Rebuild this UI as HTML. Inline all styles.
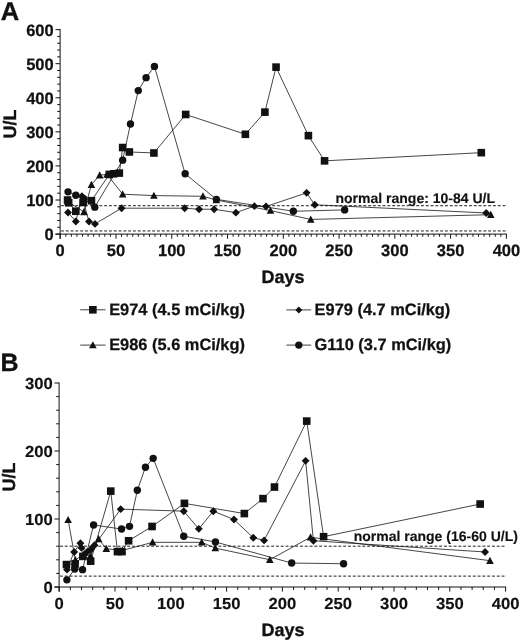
<!DOCTYPE html>
<html lang="en"><head><meta charset="utf-8"><title>Figure</title>
<style>
html,body{margin:0;padding:0;background:#fff;}
body{width:520px;height:642px;overflow:hidden;}
svg{display:block;will-change:transform;}
text{text-rendering:geometricPrecision;}
</style></head>
<body>
<svg width="520" height="642" viewBox="0 0 520 642">
<rect width="520" height="642" fill="#fff"/>
<g stroke="#111" stroke-width="1.0" fill="none" stroke-linecap="butt">
<path d="M60.10 29.10V238.90"/>
<path d="M55.50 234.10H506.90"/>
</g>
<g stroke="#111" stroke-width="1.0" fill="none">
<path d="M60.20 234.10v4.6M65.78 234.10v2.6M71.36 234.10v2.6M76.93 234.10v2.6M82.51 234.10v2.6M88.09 234.10v2.6M93.66 234.10v2.6M99.24 234.10v2.6M104.82 234.10v2.6M110.40 234.10v2.6M115.97 234.10v4.6M121.55 234.10v2.6M127.13 234.10v2.6M132.71 234.10v2.6M138.28 234.10v2.6M143.86 234.10v2.6M149.44 234.10v2.6M155.02 234.10v2.6M160.59 234.10v2.6M166.17 234.10v2.6M171.75 234.10v4.6M177.33 234.10v2.6M182.91 234.10v2.6M188.48 234.10v2.6M194.06 234.10v2.6M199.64 234.10v2.6M205.21 234.10v2.6M210.79 234.10v2.6M216.37 234.10v2.6M221.95 234.10v2.6M227.52 234.10v4.6M233.10 234.10v2.6M238.68 234.10v2.6M244.26 234.10v2.6M249.83 234.10v2.6M255.41 234.10v2.6M260.99 234.10v2.6M266.57 234.10v2.6M272.14 234.10v2.6M277.72 234.10v2.6M283.30 234.10v4.6M288.88 234.10v2.6M294.45 234.10v2.6M300.03 234.10v2.6M305.61 234.10v2.6M311.19 234.10v2.6M316.76 234.10v2.6M322.34 234.10v2.6M327.92 234.10v2.6M333.50 234.10v2.6M339.07 234.10v4.6M344.65 234.10v2.6M350.23 234.10v2.6M355.81 234.10v2.6M361.38 234.10v2.6M366.96 234.10v2.6M372.54 234.10v2.6M378.12 234.10v2.6M383.69 234.10v2.6M389.27 234.10v2.6M394.85 234.10v4.6M400.43 234.10v2.6M406.00 234.10v2.6M411.58 234.10v2.6M417.16 234.10v2.6M422.74 234.10v2.6M428.31 234.10v2.6M433.89 234.10v2.6M439.47 234.10v2.6M445.05 234.10v2.6M450.62 234.10v4.6M456.20 234.10v2.6M461.78 234.10v2.6M467.36 234.10v2.6M472.93 234.10v2.6M478.51 234.10v2.6M484.09 234.10v2.6M489.67 234.10v2.6M495.24 234.10v2.6M500.82 234.10v2.6M506.40 234.10v4.6M60.10 234.10h-4.6M60.10 227.28h-2.9M60.10 220.47h-2.9M60.10 213.65h-2.9M60.10 206.83h-2.9M60.10 200.02h-4.6M60.10 193.20h-2.9M60.10 186.38h-2.9M60.10 179.57h-2.9M60.10 172.75h-2.9M60.10 165.93h-4.6M60.10 159.12h-2.9M60.10 152.30h-2.9M60.10 145.48h-2.9M60.10 138.67h-2.9M60.10 131.85h-4.6M60.10 125.03h-2.9M60.10 118.22h-2.9M60.10 111.40h-2.9M60.10 104.58h-2.9M60.10 97.77h-4.6M60.10 90.95h-2.9M60.10 84.13h-2.9M60.10 77.32h-2.9M60.10 70.50h-2.9M60.10 63.68h-4.6M60.10 56.87h-2.9M60.10 50.05h-2.9M60.10 43.23h-2.9M60.10 36.42h-2.9M60.10 29.60h-4.6"/>
</g>
<g font-family='"Liberation Sans", Arial, Helvetica, sans-serif' font-weight="700" font-size="16.5" fill="#111" stroke="#111" stroke-width="0.25">
<text transform="translate(60.20 255.70) scale(1.0 1)" text-anchor="middle">0</text>
<text transform="translate(115.97 255.70) scale(1.0 1)" text-anchor="middle">50</text>
<text transform="translate(171.75 255.70) scale(1.0 1)" text-anchor="middle">100</text>
<text transform="translate(227.52 255.70) scale(1.0 1)" text-anchor="middle">150</text>
<text transform="translate(283.30 255.70) scale(1.0 1)" text-anchor="middle">200</text>
<text transform="translate(339.07 255.70) scale(1.0 1)" text-anchor="middle">250</text>
<text transform="translate(394.85 255.70) scale(1.0 1)" text-anchor="middle">300</text>
<text transform="translate(450.62 255.70) scale(1.0 1)" text-anchor="middle">350</text>
<text transform="translate(506.40 255.70) scale(1.0 1)" text-anchor="middle">400</text>
<text transform="translate(53.70 240) scale(1.0 1)" text-anchor="end">0</text>
<text transform="translate(53.70 206) scale(1.0 1)" text-anchor="end">100</text>
<text transform="translate(53.70 172) scale(1.0 1)" text-anchor="end">200</text>
<text transform="translate(53.70 138) scale(1.0 1)" text-anchor="end">300</text>
<text transform="translate(53.70 104) scale(1.0 1)" text-anchor="end">400</text>
<text transform="translate(53.70 70) scale(1.0 1)" text-anchor="end">500</text>
<text transform="translate(53.70 36) scale(1.0 1)" text-anchor="end">600</text>
</g>
<path d="M61.00 205.71H507.5" stroke="#111" stroke-width="0.95" stroke-dasharray="2.9 1.9" fill="none"/>
<path d="M61.00 230.96H507.5" stroke="#111" stroke-width="0.95" stroke-dasharray="2.9 1.9" fill="none"/>
<path d="M68.01 201.72 L83.96 211.95 L91.43 184.68 L99.69 175.14 L107.05 174.45 L122.67 194.22 L153.90 195.59 L202.98 196.27 L216.37 200.02 L270.47 210.58 L310.74 219.44 L490.78 214.67" stroke="#111" stroke-width="0.78" fill="none" stroke-linejoin="round"/>
<g fill="#111"><path d="M68.01 197.76L71.81 204.96L64.21 204.96Z"/><path d="M83.96 207.99L87.76 215.19L80.16 215.19Z"/><path d="M91.43 180.72L95.23 187.92L87.63 187.92Z"/><path d="M99.69 171.18L103.49 178.38L95.89 178.38Z"/><path d="M107.05 170.49L110.85 177.69L103.25 177.69Z"/><path d="M122.67 190.26L126.47 197.46L118.87 197.46Z"/><path d="M153.90 191.63L157.70 198.83L150.10 198.83Z"/><path d="M202.98 192.31L206.78 199.51L199.18 199.51Z"/><path d="M216.37 196.06L220.17 203.26L212.57 203.26Z"/><path d="M270.47 206.62L274.27 213.82L266.67 213.82Z"/><path d="M310.74 215.48L314.54 222.68L306.94 222.68Z"/><path d="M490.78 210.71L494.58 217.91L486.98 217.91Z"/></g>
<path d="M68.01 212.46 L75.82 221.49 L81.95 196.27 L88.98 221.49 L95.00 223.88 L121.55 208.20 L184.69 208.20 L199.08 209.22 L214.14 209.22 L235.89 212.63 L254.41 206.15 L266.01 206.49 L306.61 192.86 L314.76 204.79 L486.21 212.97" stroke="#111" stroke-width="0.78" fill="none" stroke-linejoin="round"/>
<g fill="#111"><path d="M68.01 208.51L71.96 212.46L68.01 216.41L64.06 212.46Z"/><path d="M75.82 217.54L79.77 221.49L75.82 225.44L71.87 221.49Z"/><path d="M81.95 192.32L85.90 196.27L81.95 200.22L78.00 196.27Z"/><path d="M88.98 217.54L92.93 221.49L88.98 225.44L85.03 221.49Z"/><path d="M95.00 219.93L98.95 223.88L95.00 227.82L91.05 223.88Z"/><path d="M121.55 204.25L125.50 208.20L121.55 212.15L117.60 208.20Z"/><path d="M184.69 204.25L188.64 208.20L184.69 212.15L180.74 208.20Z"/><path d="M199.08 205.27L203.03 209.22L199.08 213.17L195.13 209.22Z"/><path d="M214.14 205.27L218.09 209.22L214.14 213.17L210.19 209.22Z"/><path d="M235.89 208.68L239.84 212.63L235.89 216.58L231.94 212.63Z"/><path d="M254.41 202.20L258.36 206.15L254.41 210.10L250.46 206.15Z"/><path d="M266.01 202.54L269.96 206.49L266.01 210.44L262.06 206.49Z"/><path d="M306.61 188.91L310.56 192.86L306.61 196.81L302.66 192.86Z"/><path d="M314.76 200.84L318.71 204.79L314.76 208.74L310.81 204.79Z"/><path d="M486.21 209.02L490.16 212.97L486.21 216.92L482.26 212.97Z"/></g>
<path d="M68.01 191.84 L75.82 195.25 L83.63 198.65 L94.78 207.17 L122.67 160.14 L130.48 124.01 L138.28 90.61 L146.09 77.66 L154.46 66.41 L185.14 173.77 L216.37 199.33 L293.34 211.26 L344.65 209.90" stroke="#111" stroke-width="0.78" fill="none" stroke-linejoin="round"/>
<g fill="#111"><circle cx="68.01" cy="191.84" r="3.7"/><circle cx="75.82" cy="195.25" r="3.7"/><circle cx="83.63" cy="198.65" r="3.7"/><circle cx="94.78" cy="207.17" r="3.7"/><circle cx="122.67" cy="160.14" r="3.7"/><circle cx="130.48" cy="124.01" r="3.7"/><circle cx="138.28" cy="90.61" r="3.7"/><circle cx="146.09" cy="77.66" r="3.7"/><circle cx="154.46" cy="66.41" r="3.7"/><circle cx="185.14" cy="173.77" r="3.7"/><circle cx="216.37" cy="199.33" r="3.7"/><circle cx="293.34" cy="211.26" r="3.7"/><circle cx="344.65" cy="209.90" r="3.7"/></g>
<path d="M67.56 200.02 L68.68 202.74 L75.82 211.26 L83.07 202.40 L91.43 200.70 L109.28 174.45 L113.74 173.77 L119.32 173.09 L122.67 147.53 L129.36 151.96 L153.90 152.98 L185.69 114.47 L245.37 134.27 L264.89 112.12 L276.05 67.13 L308.40 135.63 L324.57 160.85 L481.30 152.67" stroke="#111" stroke-width="0.78" fill="none" stroke-linejoin="round"/>
<g fill="#111"><rect x="63.76" y="196.22" width="7.6" height="7.6"/><rect x="64.88" y="198.94" width="7.6" height="7.6"/><rect x="72.02" y="207.46" width="7.6" height="7.6"/><rect x="79.27" y="198.60" width="7.6" height="7.6"/><rect x="87.63" y="196.90" width="7.6" height="7.6"/><rect x="105.48" y="170.65" width="7.6" height="7.6"/><rect x="109.94" y="169.97" width="7.6" height="7.6"/><rect x="115.52" y="169.29" width="7.6" height="7.6"/><rect x="118.87" y="143.73" width="7.6" height="7.6"/><rect x="125.56" y="148.16" width="7.6" height="7.6"/><rect x="150.10" y="149.18" width="7.6" height="7.6"/><rect x="181.89" y="110.67" width="7.6" height="7.6"/><rect x="241.57" y="130.47" width="7.6" height="7.6"/><rect x="261.09" y="108.32" width="7.6" height="7.6"/><rect x="272.25" y="63.33" width="7.6" height="7.6"/><rect x="304.60" y="131.83" width="7.6" height="7.6"/><rect x="320.77" y="157.05" width="7.6" height="7.6"/><rect x="477.50" y="148.87" width="7.6" height="7.6"/></g>
<g stroke="#111" stroke-width="1.0" fill="none" stroke-linecap="butt">
<path d="M59.10 382.50V591.80"/>
<path d="M54.50 587.00H506.10"/>
</g>
<g stroke="#111" stroke-width="1.0" fill="none">
<path d="M59.20 587.00v4.6M70.36 587.00v2.9M81.52 587.00v2.9M92.68 587.00v2.9M103.84 587.00v2.9M115.00 587.00v4.6M126.16 587.00v2.9M137.32 587.00v2.9M148.48 587.00v2.9M159.64 587.00v2.9M170.80 587.00v4.6M181.96 587.00v2.9M193.12 587.00v2.9M204.28 587.00v2.9M215.44 587.00v2.9M226.60 587.00v4.6M237.76 587.00v2.9M248.92 587.00v2.9M260.08 587.00v2.9M271.24 587.00v2.9M282.40 587.00v4.6M293.56 587.00v2.9M304.72 587.00v2.9M315.88 587.00v2.9M327.04 587.00v2.9M338.20 587.00v4.6M349.36 587.00v2.9M360.52 587.00v2.9M371.68 587.00v2.9M382.84 587.00v2.9M394.00 587.00v4.6M405.16 587.00v2.9M416.32 587.00v2.9M427.48 587.00v2.9M438.64 587.00v2.9M449.80 587.00v4.6M460.96 587.00v2.9M472.12 587.00v2.9M483.28 587.00v2.9M494.44 587.00v2.9M505.60 587.00v4.6M59.10 587.00h-4.6M59.10 573.40h-2.9M59.10 559.80h-2.9M59.10 546.20h-2.9M59.10 532.60h-2.9M59.10 519.00h-4.6M59.10 505.40h-2.9M59.10 491.80h-2.9M59.10 478.20h-2.9M59.10 464.60h-2.9M59.10 451.00h-4.6M59.10 437.40h-2.9M59.10 423.80h-2.9M59.10 410.20h-2.9M59.10 396.60h-2.9M59.10 383.00h-4.6"/>
</g>
<g font-family='"Liberation Sans", Arial, Helvetica, sans-serif' font-weight="700" font-size="16.0" fill="#111" stroke="#111" stroke-width="0.15">
<text transform="translate(59.20 608.60) scale(1.04 1)" text-anchor="middle">0</text>
<text transform="translate(115.00 608.60) scale(1.04 1)" text-anchor="middle">50</text>
<text transform="translate(170.80 608.60) scale(1.04 1)" text-anchor="middle">100</text>
<text transform="translate(226.60 608.60) scale(1.04 1)" text-anchor="middle">150</text>
<text transform="translate(282.40 608.60) scale(1.04 1)" text-anchor="middle">200</text>
<text transform="translate(338.20 608.60) scale(1.04 1)" text-anchor="middle">250</text>
<text transform="translate(394.00 608.60) scale(1.04 1)" text-anchor="middle">300</text>
<text transform="translate(449.80 608.60) scale(1.04 1)" text-anchor="middle">350</text>
<text transform="translate(505.60 608.60) scale(1.04 1)" text-anchor="middle">400</text>
<text transform="translate(52.70 593) scale(1.04 1)" text-anchor="end">0</text>
<text transform="translate(52.70 525) scale(1.04 1)" text-anchor="end">100</text>
<text transform="translate(52.70 457) scale(1.04 1)" text-anchor="end">200</text>
<text transform="translate(52.70 389) scale(1.04 1)" text-anchor="end">300</text>
</g>
<path d="M60.00 546.20H506.5" stroke="#111" stroke-width="0.95" stroke-dasharray="2.9 1.9" fill="none"/>
<path d="M60.00 576.12H506.5" stroke="#111" stroke-width="0.95" stroke-dasharray="2.9 1.9" fill="none"/>
<path d="M68.13 519.88 L75.38 560.00 L83.19 554.56 L90.45 555.92 L98.59 538.92 L106.30 548.78 L122.25 550.48 L152.61 542.32 L201.71 542.32 L215.33 548.10 L269.79 559.73 L310.52 537.22 L489.98 560.68" stroke="#111" stroke-width="0.78" fill="none" stroke-linejoin="round"/>
<g fill="#111"><path d="M68.13 515.92L71.93 523.12L64.33 523.12Z"/><path d="M75.38 556.04L79.18 563.24L71.58 563.24Z"/><path d="M83.19 550.60L86.99 557.80L79.39 557.80Z"/><path d="M90.45 551.96L94.25 559.16L86.65 559.16Z"/><path d="M98.59 534.96L102.39 542.16L94.79 542.16Z"/><path d="M106.30 544.82L110.10 552.02L102.50 552.02Z"/><path d="M122.25 546.52L126.05 553.72L118.45 553.72Z"/><path d="M152.61 538.36L156.41 545.56L148.81 545.56Z"/><path d="M201.71 538.36L205.51 545.56L197.91 545.56Z"/><path d="M215.33 544.14L219.13 551.34L211.53 551.34Z"/><path d="M269.79 555.77L273.59 562.97L265.99 562.97Z"/><path d="M310.52 533.26L314.32 540.46L306.72 540.46Z"/><path d="M489.98 556.72L493.78 563.92L486.18 563.92Z"/></g>
<path d="M67.01 569.66 L74.15 551.98 L80.40 543.14 L81.52 547.90 L87.10 551.98 L91.12 549.26 L94.47 545.18 L120.69 509.14 L183.75 511.18 L198.81 528.86 L213.32 511.18 L233.97 519.54 L253.27 537.70 L264.10 540.42 L305.61 460.86 L313.42 540.76 L485.07 551.98" stroke="#111" stroke-width="0.78" fill="none" stroke-linejoin="round"/>
<g fill="#111"><path d="M67.01 565.71L70.96 569.66L67.01 573.61L63.06 569.66Z"/><path d="M74.15 548.03L78.10 551.98L74.15 555.93L70.20 551.98Z"/><path d="M80.40 539.19L84.35 543.14L80.40 547.09L76.45 543.14Z"/><path d="M81.52 543.95L85.47 547.90L81.52 551.85L77.57 547.90Z"/><path d="M87.10 548.03L91.05 551.98L87.10 555.93L83.15 551.98Z"/><path d="M91.12 545.31L95.07 549.26L91.12 553.21L87.17 549.26Z"/><path d="M94.47 541.23L98.42 545.18L94.47 549.13L90.52 545.18Z"/><path d="M120.69 505.19L124.64 509.14L120.69 513.09L116.74 509.14Z"/><path d="M183.75 507.23L187.70 511.18L183.75 515.13L179.80 511.18Z"/><path d="M198.81 524.91L202.76 528.86L198.81 532.81L194.86 528.86Z"/><path d="M213.32 507.23L217.27 511.18L213.32 515.13L209.37 511.18Z"/><path d="M233.97 515.59L237.92 519.54L233.97 523.49L230.02 519.54Z"/><path d="M253.27 533.75L257.22 537.70L253.27 541.65L249.32 537.70Z"/><path d="M264.10 536.47L268.05 540.42L264.10 544.37L260.15 540.42Z"/><path d="M305.61 456.91L309.56 460.86L305.61 464.81L301.66 460.86Z"/><path d="M313.42 536.81L317.37 540.76L313.42 544.71L309.47 540.76Z"/><path d="M485.07 548.03L489.02 551.98L485.07 555.93L481.12 551.98Z"/></g>
<path d="M66.90 579.86 L74.71 568.98 L82.52 569.66 L93.57 524.98 L121.58 529.06 L129.51 526.34 L137.32 490.30 L145.47 467.18 L153.17 458.34 L183.75 536.20 L215.44 541.98 L291.66 563.06 L343.56 563.74" stroke="#111" stroke-width="0.78" fill="none" stroke-linejoin="round"/>
<g fill="#111"><circle cx="66.90" cy="579.86" r="3.7"/><circle cx="74.71" cy="568.98" r="3.7"/><circle cx="82.52" cy="569.66" r="3.7"/><circle cx="93.57" cy="524.98" r="3.7"/><circle cx="121.58" cy="529.06" r="3.7"/><circle cx="129.51" cy="526.34" r="3.7"/><circle cx="137.32" cy="490.30" r="3.7"/><circle cx="145.47" cy="467.18" r="3.7"/><circle cx="153.17" cy="458.34" r="3.7"/><circle cx="183.75" cy="536.20" r="3.7"/><circle cx="215.44" cy="541.98" r="3.7"/><circle cx="291.66" cy="563.06" r="3.7"/><circle cx="343.56" cy="563.74" r="3.7"/></g>
<path d="M66.45 564.56 L75.05 563.88 L82.86 556.40 L90.67 561.16 L110.76 491.12 L117.46 551.64 L121.92 551.64 L128.62 540.76 L152.05 526.48 L184.42 503.36 L244.34 513.56 L262.98 498.60 L274.48 487.04 L306.73 421.08 L323.58 536.68 L480.16 504.04" stroke="#111" stroke-width="0.78" fill="none" stroke-linejoin="round"/>
<g fill="#111"><rect x="62.65" y="560.76" width="7.6" height="7.6"/><rect x="71.25" y="560.08" width="7.6" height="7.6"/><rect x="79.06" y="552.60" width="7.6" height="7.6"/><rect x="86.87" y="557.36" width="7.6" height="7.6"/><rect x="106.96" y="487.32" width="7.6" height="7.6"/><rect x="113.66" y="547.84" width="7.6" height="7.6"/><rect x="118.12" y="547.84" width="7.6" height="7.6"/><rect x="124.82" y="536.96" width="7.6" height="7.6"/><rect x="148.25" y="522.68" width="7.6" height="7.6"/><rect x="180.62" y="499.56" width="7.6" height="7.6"/><rect x="240.54" y="509.76" width="7.6" height="7.6"/><rect x="259.18" y="494.80" width="7.6" height="7.6"/><rect x="270.68" y="483.24" width="7.6" height="7.6"/><rect x="302.93" y="417.28" width="7.6" height="7.6"/><rect x="319.78" y="532.88" width="7.6" height="7.6"/><rect x="476.36" y="500.24" width="7.6" height="7.6"/></g>
<text x="0.8" y="19.6" font-family='"Liberation Sans", Arial, Helvetica, sans-serif' font-weight="700" fill="#111" stroke="#111" stroke-width="0.35" font-size="25.5">A</text>
<text x="0.4" y="371.3" font-family='"Liberation Sans", Arial, Helvetica, sans-serif' font-weight="700" fill="#111" stroke="#111" stroke-width="0.35" font-size="25">B</text>
<text transform="translate(16.0 124) rotate(-90)" text-anchor="middle" font-family='"Liberation Sans", Arial, Helvetica, sans-serif' font-weight="700" fill="#111" stroke="#111" stroke-width="0.35" font-size="18">U/L</text>
<text transform="translate(15.2 477) rotate(-90)" text-anchor="middle" font-family='"Liberation Sans", Arial, Helvetica, sans-serif' font-weight="700" fill="#111" stroke="#111" stroke-width="0.35" font-size="18">U/L</text>
<text x="283" y="282.5" text-anchor="middle" font-family='"Liberation Sans", Arial, Helvetica, sans-serif' font-weight="700" fill="#111" stroke="#111" stroke-width="0.35" font-size="18">Days</text>
<text x="283" y="636" text-anchor="middle" font-family='"Liberation Sans", Arial, Helvetica, sans-serif' font-weight="700" fill="#111" stroke="#111" stroke-width="0.35" font-size="18">Days</text>
<text x="335.5" y="202.7" font-family='"Liberation Sans", Arial, Helvetica, sans-serif' font-weight="700" fill="#111" stroke="#111" stroke-width="0.15" font-size="14">normal range: 10-84 U/L</text>
<text x="353.7" y="541.0" font-family='"Liberation Sans", Arial, Helvetica, sans-serif' font-weight="700" fill="#111" stroke="#111" stroke-width="0.15" font-size="14">normal range (16-60 U/L)</text>
<path d="M80.2 309.8H105.5" stroke="#111" stroke-width="0.8" fill="none"/><g fill="#111"><rect x="89.05" y="306.00" width="7.6" height="7.6"/></g><text x="109.2" y="315.0" font-family='"Liberation Sans", Arial, Helvetica, sans-serif' font-weight="700" font-size="16.4" fill="#111" stroke="#111" stroke-width="0.25">E974 (4.5 mCi/kg)</text>
<path d="M80.2 345.1H105.5" stroke="#111" stroke-width="0.8" fill="none"/><g fill="#111"><path d="M92.85 341.14L96.65 348.34L89.05 348.34Z"/></g><text x="109.2" y="350.3" font-family='"Liberation Sans", Arial, Helvetica, sans-serif' font-weight="700" font-size="16.4" fill="#111" stroke="#111" stroke-width="0.25">E986 (5.6 mCi/kg)</text>
<path d="M286.4 309.9H311.2" stroke="#111" stroke-width="0.8" fill="none"/><g fill="#111"><path d="M298.80 306.40L302.30 309.90L298.80 313.40L295.30 309.90Z"/></g><text x="314.6" y="315.1" font-family='"Liberation Sans", Arial, Helvetica, sans-serif' font-weight="700" font-size="16.4" fill="#111" stroke="#111" stroke-width="0.25">E979 (4.7 mCi/kg)</text>
<path d="M286.4 345.1H311.2" stroke="#111" stroke-width="0.8" fill="none"/><g fill="#111"><circle cx="298.80" cy="345.10" r="3.7"/></g><text x="314.6" y="350.3" font-family='"Liberation Sans", Arial, Helvetica, sans-serif' font-weight="700" font-size="16.4" fill="#111" stroke="#111" stroke-width="0.25">G110 (3.7 mCi/kg)</text>
</svg>
</body></html>
